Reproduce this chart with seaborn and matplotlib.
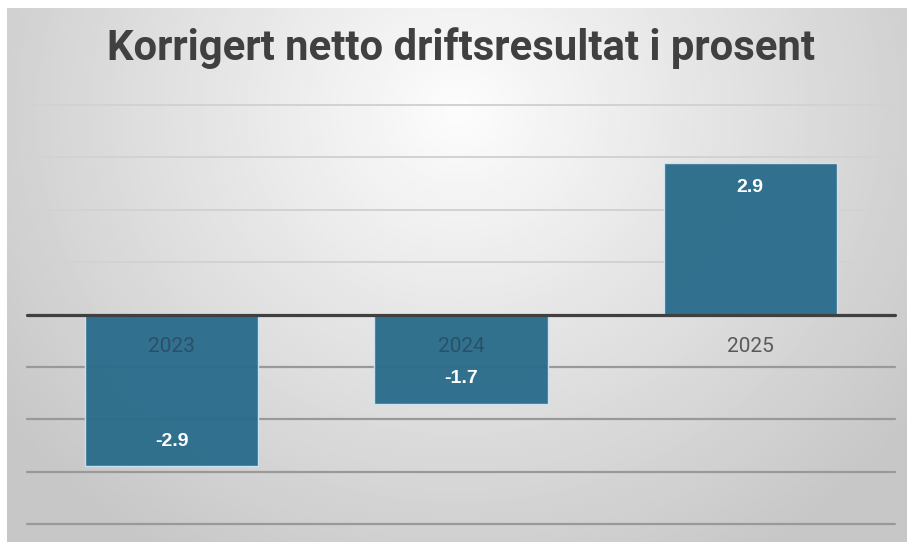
import numpy as np
import matplotlib
matplotlib.use('Agg')
import matplotlib.pyplot as plt
import seaborn as sns

# ---- data ----
years = ['2023', '2024', '2025']
values = [-2.9, -1.7, 2.9]
value_labels = ['-2.9', '-1.7', '2.9']
yticks = [-4, -3, -2, -1, 0, 1, 2, 3, 4]
title = 'Korrigert netto driftsresultat i prosent'

sns.set_theme(style='white')
plt.rcParams['font.family'] = ['Roboto', 'Liberation Sans', 'DejaVu Sans']

W, H = 907, 542
fig = plt.figure(figsize=(W / 100, H / 100), dpi=100)
fig.patch.set_facecolor('white')

# background gradient panel
bg = fig.add_axes([7 / W, 0, (W - 7) / W, (H - 8) / H])
bg.set_axis_off()
ny, nx = 267, 450
yy, xx = np.mgrid[0:ny, 0:nx]
X = xx / nx * 900 + 7
Y = yy / ny * 534 + 8
d = np.sqrt(((X - 458) / 560) ** 2 + ((Y - 110) / 520) ** 2)
v = np.clip(0.99 - 0.21 * d, 0.78, 1)
bg.imshow(v, cmap='gray', vmin=0, vmax=1, extent=[0, 1, 0, 1], aspect='auto',
          interpolation='bilinear')
bg.set_xlim(0, 1)
bg.set_ylim(0, 1)

# main axes
ax = fig.add_axes([27 / W, (H - 524) / H, 868 / W, 419 / H])
ax.patch.set_alpha(0)
sns.barplot(x=years, y=values, ax=ax, color='#2a6c8b', width=0.6, saturation=1,
            edgecolor='#cfe4f2', linewidth=1.0, alpha=0.96, zorder=3)
ax.set_xlim(-0.5, 2.5)
ax.set_ylim(-4, 4)
ax.axis('off')

for t in yticks:
    if t == 0:
        continue
    if t > 0:
        ax.axhline(t, color='#d2d2d2', lw=1.4, zorder=1, clip_on=False)
    else:
        ax.axhline(t, color='#999999', lw=1.6, zorder=1, clip_on=False)
ax.axhline(0, color='#404040', lw=2.3, zorder=4, clip_on=False)

for i, (yr, val) in enumerate(zip(years, values)):
    col = '#595959' if val >= 0 else '#2a5068'
    ax.annotate(yr, (i, 0), xytext=(0, -32), textcoords='offset pixels',
                ha='center', va='center', color=col, fontsize=15, zorder=5)

for p, lab in zip(ax.patches, value_labels):
    end = p.get_y() + p.get_height()
    off = -25 if p.get_height() > 0 else 25
    ax.annotate(lab, (p.get_x() + p.get_width() / 2, end), xytext=(0, off),
                textcoords='offset pixels', ha='center', va='center',
                color='white', fontsize=14, fontweight='bold', zorder=6,
                family=['Liberation Sans', 'DejaVu Sans'])

t = fig.text(461 / W, 1 - 48 / H, title, ha='center', va='center',
             family=['Roboto', 'DejaVu Sans'], fontweight='bold', color='#404040')
t.set_fontsize(30)
fig.canvas.draw()
bb = t.get_window_extent(fig.canvas.get_renderer())
t.set_fontsize(30 * 708 / bb.width)

fig.savefig('out.png', dpi=100, facecolor='white')
